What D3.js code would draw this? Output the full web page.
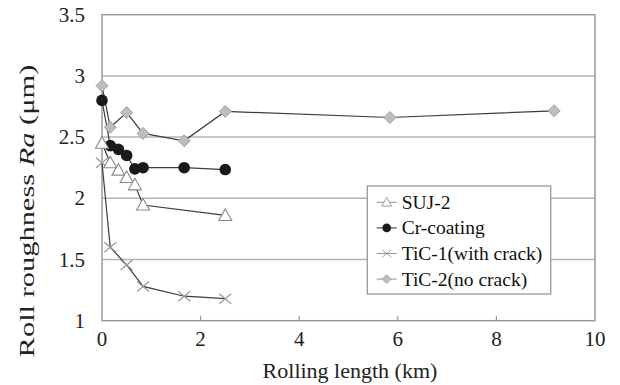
<!DOCTYPE html>
<html>
<head>
<meta charset="utf-8">
<script src="https://cdn.jsdelivr.net/npm/d3@7"></script>
<style>
  body { margin: 0; background: #fff; }
  svg { display: block; font-family: "Liberation Serif", "DejaVu Serif", serif; }
  .grid line { stroke: #b4b4b4; stroke-width: 1.5px; }
  .frame { fill: none; stroke: #9a9a9a; stroke-width: 1.5px; }
  .series path { fill: none; stroke: #3c3c3c; stroke-width: 1.2px; }
  .tick-label { font-size: 21px; fill: #222; }
  .title { font-size: 22px; fill: #222; }
  .legend text { font-size: 19.5px; fill: #111; }
</style>
</head>
<body>
<svg id="chart" width="620" height="385"></svg>
<script>
// rolling length (km) and roughness Ra (um) for each roll
var sujX = [0, 0.167, 0.333, 0.5, 0.667, 0.833, 2.5];
var sujY = [2.45, 2.29, 2.23, 2.17, 2.11, 1.945, 1.86];

var crX = [0, 0.167, 0.333, 0.5, 0.667, 0.833, 1.667, 2.5];
var crY = [2.80, 2.43, 2.40, 2.35, 2.24, 2.25, 2.25, 2.235];

var tic1X = [0, 0.167, 0.5, 0.833, 1.667, 2.5];
var tic1Y = [2.29, 1.60, 1.455, 1.28, 1.20, 1.18];

var tic2X = [0, 0.167, 0.5, 0.833, 1.667, 2.5, 5.84, 9.17];
var tic2Y = [2.92, 2.58, 2.70, 2.53, 2.47, 2.71, 2.66, 2.715];

var seriesNames = ["SUJ-2", "Cr-coating", "TiC-1(with crack)", "TiC-2(no crack)"];
var xTicks = [0, 2, 4, 6, 8, 10];
var yTicks = [1, 1.5, 2, 2.5, 3, 3.5];

var svg = d3.select("#chart");
var pLeft = 102, pRight = 595, pTop = 14.7, pBottom = 320.7;

var x = d3.scaleLinear().domain([0, 10]).range([pLeft, pRight]);
var y = d3.scaleLinear().domain([1, 3.5]).range([pBottom, pTop]);

// horizontal grid
svg.append("g").attr("class", "grid")
  .selectAll("line").data(yTicks.filter(function(d) { return d > 1 && d < 3.5; }))
  .enter().append("line")
    .attr("x1", pLeft).attr("x2", pRight)
    .attr("y1", function(d) { return y(d); })
    .attr("y2", function(d) { return y(d); });

svg.append("rect").attr("class", "frame")
  .attr("x", pLeft).attr("y", pTop)
  .attr("width", pRight - pLeft).attr("height", pBottom - pTop);

// small inward ticks on the bottom axis
svg.append("g").selectAll("line").data(xTicks.slice(1, -1))
  .enter().append("line")
    .attr("x1", function(d) { return x(d); })
    .attr("x2", function(d) { return x(d); })
    .attr("y1", pBottom).attr("y2", pBottom - 5)
    .attr("stroke", "#9a9a9a").attr("stroke-width", 1.2);

svg.append("g").selectAll("text").data(xTicks)
  .enter().append("text").attr("class", "tick-label")
    .attr("x", function(d) { return x(d); })
    .attr("y", 346)
    .attr("text-anchor", "middle")
    .text(function(d) { return d; });

svg.append("g").selectAll("text").data(yTicks)
  .enter().append("text").attr("class", "tick-label")
    .attr("x", 85)
    .attr("y", function(d) { return y(d) + 7; })
    .attr("text-anchor", "end")
    .text(function(d) { return d; });

svg.append("text").attr("class", "title")
  .attr("x", 350).attr("y", 378)
  .attr("text-anchor", "middle")
  .text("Rolling length (km)");

var ytg = svg.append("g").attr("transform", "translate(34,211) rotate(-90)");
var yt = ytg.append("text").attr("class", "title").attr("text-anchor", "middle");
yt.append("tspan").text("Roll roughness ");
yt.append("tspan").attr("font-style", "italic").text("Ra");
yt.append("tspan").text(" (\u03bcm)");
// the reference title is stretched along its length
var ytLen = yt.node().getComputedTextLength();
yt.attr("transform", "scale(" + (293 / ytLen) + ",1)");

// marker drawers
function triangle(g) {
  g.append("path").attr("d", "M0,-6.5L6.5,5L-6.5,5Z")
    .attr("fill", "#fff").attr("stroke", "#8a8a8a").attr("stroke-width", 1.1);
}
function circle(g) {
  g.append("circle").attr("r", 5.8).attr("fill", "#1a1a1a");
}
function cross(g) {
  g.append("path").attr("d", "M-6,-5L6,5M-6,5L6,-5")
    .attr("stroke", "#999").attr("stroke-width", 1.2);
}
function diamond(g) {
  g.append("path").attr("d", "M0,-6L6,0L0,6L-6,0Z")
    .attr("fill", "#bdbdbd").attr("stroke", "#a0a0a0").attr("stroke-width", 1);
}

var series = [
  { xs: sujX, ys: sujY, mark: triangle },
  { xs: crX, ys: crY, mark: circle },
  { xs: tic1X, ys: tic1Y, mark: cross },
  { xs: tic2X, ys: tic2Y, mark: diamond }
];

var line = d3.line()
  .x(function(d) { return x(d[0]); })
  .y(function(d) { return y(d[1]); });

// lines first, then markers on top
series.forEach(function(s) {
  s.pts = d3.zip(s.xs, s.ys);
  svg.append("g").attr("class", "series").append("path").attr("d", line(s.pts));
});
series.slice().reverse().forEach(function(s) {
  s.pts.forEach(function(p) {
    var g = svg.append("g").attr("transform", "translate(" + x(p[0]) + "," + y(p[1]) + ")");
    s.mark(g);
  });
});

// legend
var lg = svg.append("g").attr("class", "legend");
lg.append("rect").attr("x", 367.3).attr("y", 186).attr("width", 183.4).attr("height", 108)
  .attr("fill", "#fff").attr("stroke", "#9a9a9a").attr("stroke-width", 1.3);
seriesNames.forEach(function(name, i) {
  var cy = 202.3 + i * 25.6;
  var row = lg.append("g");
  row.append("line").attr("x1", 376.7).attr("x2", 396.7).attr("y1", cy).attr("y2", cy)
    .attr("stroke", i === 1 ? "#3c3c3c" : "#999").attr("stroke-width", 1.1);
  var m = row.append("g").attr("transform", "translate(386.7," + cy + ") scale(0.75)");
  series[i].mark(m);
  row.append("text").attr("x", 401.7).attr("y", cy + 6.5).text(name);
});
</script>
</body>
</html>
